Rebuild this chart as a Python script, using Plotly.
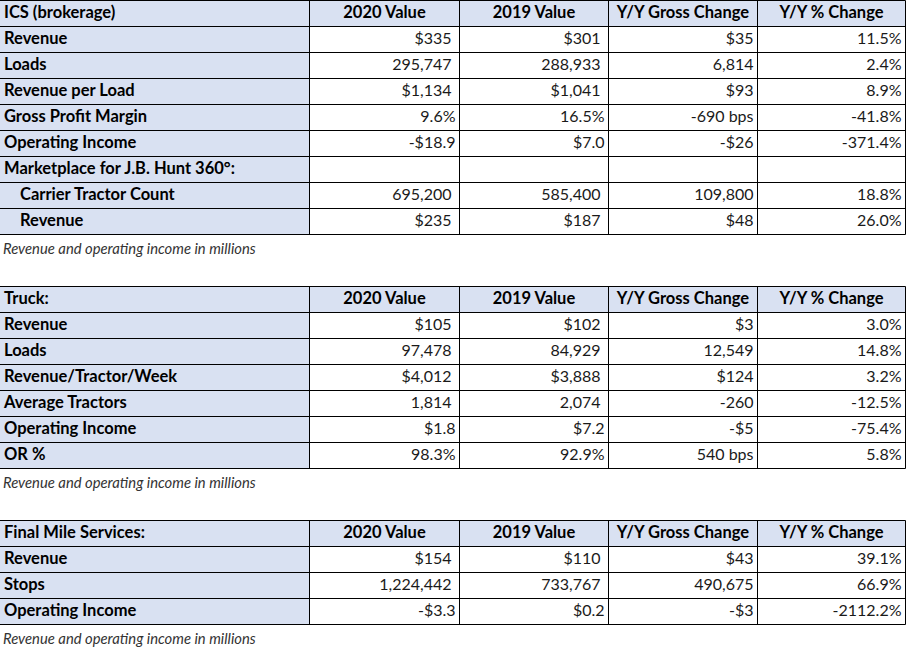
import plotly.graph_objects as go

W, H = 907, 651
ROW_PX = 26
FONT = "Lato"
BLUE = "#D9E1F2"
INK = "#1a1a1a"

columns = ["2020 Value", "2019 Value", "Y/Y Gross Change", "Y/Y % Change"]
note = "Revenue and operating income in millions"

# ICS (brokerage)
ics_title = "ICS (brokerage)"
ics_labels = ["Revenue", "Loads", "Revenue per Load", "Gross Profit Margin",
              "Operating Income", "Marketplace for J.B. Hunt 360°:",
              "Carrier Tractor Count", "Revenue"]
ics_indent = [0, 0, 0, 0, 0, 0, 1, 1]
ics_2020 = ["$335", "295,747", "$1,134", "9.6%", "-$18.9", "", "695,200", "$235"]
ics_2019 = ["$301", "288,933", "$1,041", "16.5%", "$7.0", "", "585,400", "$187"]
ics_gross = ["$35", "6,814", "$93", "-690 bps", "-$26", "", "109,800", "$48"]
ics_pct = ["11.5%", "2.4%", "8.9%", "-41.8%", "-371.4%", "", "18.8%", "26.0%"]

# Truck
truck_title = "Truck:"
truck_labels = ["Revenue", "Loads", "Revenue/Tractor/Week", "Average Tractors",
                "Operating Income", "OR %"]
truck_indent = [0, 0, 0, 0, 0, 0]
truck_2020 = ["$105", "97,478", "$4,012", "1,814", "$1.8", "98.3%"]
truck_2019 = ["$102", "84,929", "$3,888", "2,074", "$7.2", "92.9%"]
truck_gross = ["$3", "12,549", "$124", "-260", "-$5", "540 bps"]
truck_pct = ["3.0%", "14.8%", "3.2%", "-12.5%", "-75.4%", "5.8%"]

# Final Mile Services
fms_title = "Final Mile Services:"
fms_labels = ["Revenue", "Stops", "Operating Income"]
fms_indent = [0, 0, 0]
fms_2020 = ["$154", "1,224,442", "-$3.3"]
fms_2019 = ["$110", "733,767", "$0.2"]
fms_gross = ["$43", "490,675", "-$3"]
fms_pct = ["39.1%", "66.9%", "-2112.2%"]

# layout: column edges in px, first row of each block
edges = [0, 309.5, 459.5, 608.5, 757.5, 905.5]
tables = [
    (ics_title, ics_labels, ics_indent, [ics_2020, ics_2019, ics_gross, ics_pct], 0),
    (truck_title, truck_labels, truck_indent, [truck_2020, truck_2019, truck_gross, truck_pct], 11),
    (fms_title, fms_labels, fms_indent, [fms_2020, fms_2019, fms_gross, fms_pct], 20),
]

fig = go.Figure()

for title, labels, indent, cols, r0 in tables:
    nrows = len(labels) + 1
    yedges = [r0 + i for i in range(nrows + 1)]
    z = [[1] * 5] + [[1, 0, 0, 0, 0] for _ in labels]
    fig.add_trace(go.Heatmap(
        x=edges, y=yedges, z=z,
        colorscale=[[0, "white"], [1, BLUE]], zmin=0, zmax=1,
        showscale=False, hoverinfo="skip",
    ))

    # cell borders
    gx, gy = [], []
    for yb in yedges:
        gx += [edges[0], edges[-1], None]
        gy += [yb, yb, None]
    for xb in edges[1:]:
        gx += [xb, xb, None]
        gy += [yedges[0], yedges[-1], None]
    fig.add_trace(go.Scatter(
        x=gx, y=gy, mode="lines", line=dict(color="black", width=1),
        hoverinfo="skip", showlegend=False,
    ))

    # header row
    fig.add_trace(go.Scatter(
        x=[edges[0] + 4], y=[r0 + 0.5], mode="text",
        text=["<b>" + title + "</b>"], textposition="middle right",
        textfont=dict(family=FONT, size=16.5, color="black"),
        hoverinfo="skip", showlegend=False,
    ))
    fig.add_trace(go.Scatter(
        x=[(edges[j] + edges[j + 1]) / 2 for j in range(1, 5)],
        y=[r0 + 0.5] * 4, mode="text",
        text=["<b>" + c + "</b>" for c in columns], textposition="middle center",
        textfont=dict(family=FONT, size=16.5, color="black"),
        hoverinfo="skip", showlegend=False,
    ))

    # row labels
    fig.add_trace(go.Scatter(
        x=[edges[0] + 4 + 16 * k for k in indent],
        y=[r0 + 1.5 + i for i in range(len(labels))], mode="text",
        text=["<b>" + s + "</b>" for s in labels], textposition="middle right",
        textfont=dict(family=FONT, size=16.5, color="black"),
        hoverinfo="skip", showlegend=False,
    ))

    # values
    for j, col in enumerate(cols):
        right = edges[j + 2]
        xs = [right - (8 if j < 2 and "." not in v else 4) for v in col]
        fig.add_trace(go.Scatter(
            x=xs, y=[r0 + 1.5 + i for i in range(len(col))], mode="text",
            text=col, textposition="middle left",
            textfont=dict(family=FONT, size=16, color=INK),
            hoverinfo="skip", showlegend=False,
        ))

    # footnote
    fig.add_trace(go.Scatter(
        x=[edges[0] + 3], y=[r0 + nrows + 0.6], mode="text",
        text=["<i>" + note + "</i>"], textposition="middle right",
        textfont=dict(family=FONT, size=14.8, color="#333333"),
        hoverinfo="skip", showlegend=False,
    ))

fig.update_layout(
    width=W, height=H,
    margin=dict(l=0, r=0, t=0, b=0),
    paper_bgcolor="white",
    plot_bgcolor="white",
    showlegend=False,
    xaxis=dict(range=[0, W], visible=False, fixedrange=True),
    yaxis=dict(range=[(H - 0.5) / ROW_PX, -0.5 / ROW_PX], visible=False, fixedrange=True),
)

# page has a default 8px body margin; drop it so the figure fills the window
fig.write_html("out.html", config={"displayModeBar": False},
               post_script="document.body.style.margin='0';document.body.style.overflow='hidden';")
